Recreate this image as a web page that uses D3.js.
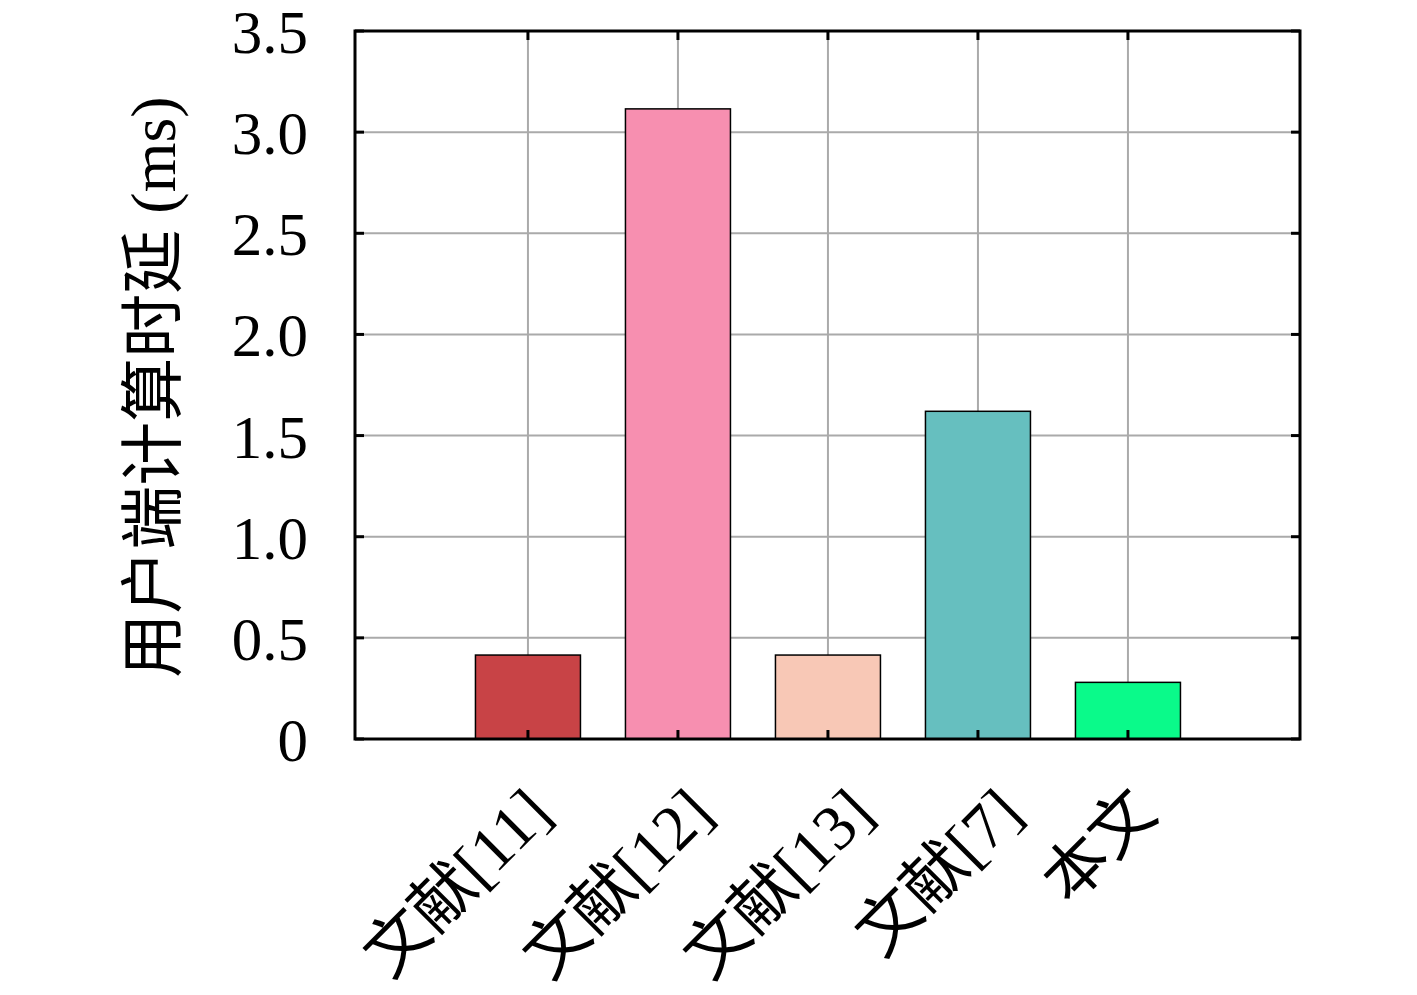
<!DOCTYPE html>
<html><head><meta charset="utf-8">
<script src="https://cdn.jsdelivr.net/npm/d3@7"></script>
<style>body{margin:0;background:#fff}svg{display:block}</style>
</head><body>
<script>
const categories = ["文献[11]", "文献[12]", "文献[13]", "文献[7]", "本文"];
const values = [0.415, 3.115, 0.415, 1.62, 0.28];
const colors = ["#c84346", "#f78fb0", "#f8c8b6", "#66bfbf", "#0afa8a"];
const yTicks = [0, 0.5, 1.0, 1.5, 2.0, 2.5, 3.0, 3.5];
const yTickLabels = ["0", "0.5", "1.0", "1.5", "2.0", "2.5", "3.0", "3.5"];
const yLabel = "用户端计算时延 (ms)";

const W = 1417, H = 995;
const m = {left: 355, top: 31, right: 1417 - 1300, bottom: 995 - 739};
const iw = W - m.left - m.right, ih = H - m.top - m.bottom;
const serif = "'Liberation Serif','DejaVu Serif',serif";
const cjk = "'Liberation Serif','Noto Sans CJK SC',serif";

const svg = d3.select("body").append("svg").attr("width", W).attr("height", H);
const g = svg.append("g").attr("transform", `translate(${m.left},${m.top})`);

const x = d3.scaleLinear().domain([-1.153, categories.length - 1 + 1.147]).range([0, iw]);
const y = d3.scaleLinear().domain([0, 3.5]).range([ih, 0]);
const idx = categories.map((d, i) => i);

// grid
g.selectAll(".vg").data(idx).enter().append("line")
  .attr("x1", d => x(d)).attr("x2", d => x(d)).attr("y1", 0).attr("y2", ih)
  .attr("stroke", "#aaaaaa").attr("stroke-width", 2);
g.selectAll(".hg").data(yTicks).enter().append("line")
  .attr("x1", 0).attr("x2", iw).attr("y1", d => y(d)).attr("y2", d => y(d))
  .attr("stroke", "#aaaaaa").attr("stroke-width", 2);

// bars
const bw = 0.7;
g.selectAll(".bar").data(values).enter().append("rect")
  .attr("x", (d, i) => x(i - bw / 2)).attr("width", x(bw) - x(0))
  .attr("y", d => y(d)).attr("height", d => ih - y(d))
  .attr("fill", (d, i) => colors[i]).attr("stroke", "#000").attr("stroke-width", 1.5);

// ticks (inward, all sides)
const tl = 9;
const tk = g.append("g").attr("stroke", "#000").attr("stroke-width", 3);
idx.forEach(i => {
  tk.append("line").attr("x1", x(i)).attr("x2", x(i)).attr("y1", ih).attr("y2", ih - tl);
  tk.append("line").attr("x1", x(i)).attr("x2", x(i)).attr("y1", 0).attr("y2", tl);
});
yTicks.forEach(v => {
  tk.append("line").attr("x1", 0).attr("x2", tl).attr("y1", y(v)).attr("y2", y(v));
  tk.append("line").attr("x1", iw).attr("x2", iw - tl).attr("y1", y(v)).attr("y2", y(v));
});

// frame
g.append("rect").attr("x", 0).attr("y", 0).attr("width", iw).attr("height", ih)
  .attr("fill", "none").attr("stroke", "#000").attr("stroke-width", 3);

// y tick labels
g.selectAll(".yl").data(yTicks).enter().append("text")
  .attr("x", -47).attr("y", d => y(d)).attr("dy", "0.36em")
  .attr("text-anchor", "end").attr("font-family", serif).attr("font-size", 61)
  .text((d, i) => yTickLabels[i]);

// x tick labels rotated (-45), top of rotated box aligned, centre drifting slightly
const fs = 64, c45 = Math.SQRT1_2;
const topY = ih + 38;
g.selectAll(".xl").data(categories).enter().append("text")
  .attr("text-anchor", "middle").attr("font-family", cjk).attr("font-size", fs)
  .text(d => d)
  .each(function(d, i) {
    const w = this.getComputedTextLength();
    const cx = x(i) - 72 + 10.5 * i;
    const cy = topY + (w / 2) * c45 + (fs / 2) * c45;
    d3.select(this).attr("dy", "0.36em")
      .attr("transform", `translate(${cx},${cy}) rotate(-45)`);
  });

// y label
svg.append("text")
  .attr("transform", `translate(175,${(m.top + 739) / 2 + 2}) rotate(-90)`)
  .attr("text-anchor", "middle").attr("font-family", cjk).attr("font-size", 64)
  .text(yLabel);
</script>
</body></html>
